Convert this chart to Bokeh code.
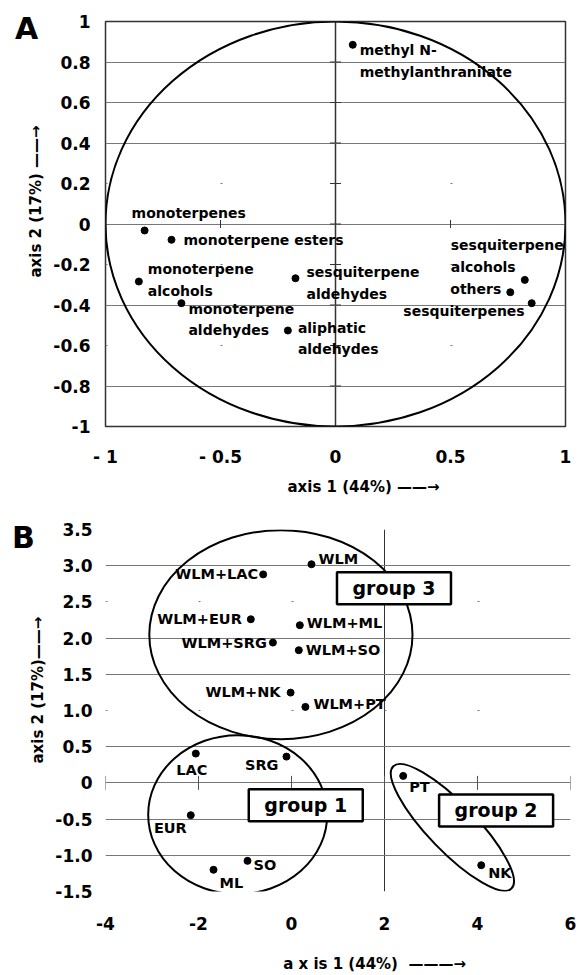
import math
from bokeh.plotting import figure
from bokeh.layouts import column
from bokeh.models import (ColumnDataSource, LabelSet, FixedTicker, Grid, Title, Div)
from bokeh.embed import file_html
from bokeh.resources import INLINE
from bokeh.core.properties import value

FONT = "DejaVu Sans"
NBSP = "\u00a0"

# ---------------- Panel A : variable loadings ----------------
a_names = ["monoterpenes", "monoterpene esters", "monoterpene\nalcohols",
           "monoterpene\naldehydes", "sesquiterpene\naldehydes", "aliphatic\naldehydes",
           "sesquiterpene\nalcohols", "others", "sesquiterpenes",
           "methyl N-\nmethylanthranilate"]
a_x = [-0.830, -0.713, -0.855, -0.670, -0.174, -0.207, 0.823, 0.760, 0.853, 0.075]
a_y = [-0.032, -0.078, -0.284, -0.391, -0.268, -0.526, -0.276, -0.337, -0.391, 0.885]

a_xticks = [-1, -0.5, 0, 0.5, 1]
a_xtick_labels = ["- 1", "- 0.5", "0", "0.5", "1"]
a_yticks = [-1, -0.8, -0.6, -0.4, -0.2, 0, 0.2, 0.4, 0.6, 0.8, 1]
a_ytick_labels = ["-1", "-0.8", "-0.6", "-0.4", "-0.2", "0", "0.2", "0.4", "0.6", "0.8", "1"]
a_grid_solid = [-0.8, -0.4, 0, 0.4, 0.6, 0.8]
a_grid_dotted = [-0.6, -0.2, 0.2]
a_circle_r = [1]

# ---------------- Panel B : sample scores ----------------
b_names = ["WLM", "WLM+LAC", "WLM+EUR", "WLM+ML", "WLM+SRG", "WLM+SO", "WLM+NK", "WLM+PT",
           "LAC", "SRG", "EUR", "SO", "ML", "PT", "NK"]
b_x = [0.430, -0.609, -0.875, 0.179, -0.400, 0.157, -0.019, 0.299,
       -2.058, -0.108, -2.166, -0.946, -1.677, 2.402, 4.080]
b_y = [3.020, 2.880, 2.260, 2.178, 1.938, 1.833, 1.247, 1.050,
       0.405, 0.363, -0.446, -1.077, -1.200, 0.097, -1.137]

b_xticks = [-4, -2, 0, 2, 4, 6]
b_xtick_labels = ["-4", "-2", "0", "2", "4", "6"]
b_yticks = [-1.5, -1, -0.5, 0, 0.5, 1, 1.5, 2, 2.5, 3, 3.5]
b_ytick_labels = ["-1.5", "-1.0", "-0.5", "0", "0.5", "1.0", "1.5", "2.0", "2.5", "3.0", "3.5"]
b_grid_solid = [-1.5, -1, -0.5, 0, 0.5, 1.5, 2, 3]
b_grid_dotted = [1, 2.5, 3.5]

group_names = ["group 1", "group 2", "group 3"]
group_box_x = [0.307, 4.40, 2.204]
group_box_y = [-0.309, -0.380, 2.690]
# group envelopes (groups 1 and 3 upright, group 2 tilted)
ell_x = [-1.157, -0.228]
ell_y = [-0.439, 2.047]
ell_w = [3.85, 5.66]
ell_h = [2.196, 2.887]
g2_x = [3.46]
g2_y = [-0.615]

# ---------------- label placement (screen px: right, down) ----------------
a_dx = [-13, 12, 9, 7, 11, 10, -74, -9, -7, 7]
a_dy = [-17, 0, -1.5, 16.5, 4.5, 8, -24, -3, 8, 16]
a_align = ["left", "left", "left", "left", "left", "left", "left", "right", "right", "left"]

b_dx = [7, -5, -9, 7, -6, 7, -10, 8, -4, -8, -4, 6, 6, 6, 7]
b_dy = [-5, 0, 0, -2, 0, 0, -1, -3, 16, 8, 13, 4, 13, 11, 8]
b_align = ["left", "right", "right", "left", "right", "left", "right", "left",
           "center", "right", "right", "left", "left", "left", "left"]


def style_axes(p, xticks, xlabels, yticks, ylabels, xstand, ystand):
    p.xaxis.ticker = FixedTicker(ticks=xticks)
    p.xaxis.major_label_overrides = dict(zip(xticks, xlabels))
    p.yaxis.ticker = FixedTicker(ticks=yticks)
    p.yaxis.major_label_overrides = dict(zip(yticks, ylabels))
    for ax, st in ((p.xaxis, xstand), (p.yaxis, ystand)):
        ax.axis_line_color = None
        ax.major_tick_line_color = None
        ax.minor_tick_line_color = None
        ax.major_tick_out = 0
        ax.major_tick_in = 0
        ax.minor_tick_out = 0
        ax.minor_tick_in = 0
        ax.major_label_standoff = st
        ax.major_label_text_font = FONT
        ax.major_label_text_font_style = "bold"
        ax.major_label_text_font_size = "17px"
        ax.major_label_text_color = "black"


def axis_title(text, offset, standoff):
    t = Title(text=text, align="left", offset=offset, text_font=FONT,
              text_font_style="bold", text_font_size="15px", text_color="black")
    if "standoff" in Title.properties():
        t.standoff = standoff
    return t


def letter(text, pad_top, pad_left):
    html = ('<div style="font-family:\'DejaVu Sans\';font-size:30px;font-weight:bold;'
            'line-height:30px;color:black;padding-top:%dpx;padding-left:%dpx;">%s</div>'
            % (pad_top, pad_left, text))
    return Div(text=html, width=60, height=50, margin=(0, 0, -50, 0))


# ================= Figure A =================
pa = figure(frame_width=460, frame_height=405, x_range=(-1, 1), y_range=(-1, 1),
            min_border_left=105, min_border_right=13, min_border_top=21, min_border_bottom=80,
            output_backend="svg", toolbar_location=None,
            background_fill_color="white", border_fill_color=None)
pa.outline_line_color = "#333333"
pa.outline_line_width = 1.5
style_axes(pa, a_xticks, a_xtick_labels, a_yticks, a_ytick_labels, 20, 15)

pa.xgrid.ticker = FixedTicker(ticks=[0])
pa.xgrid.grid_line_color = "#333333"
pa.xgrid.grid_line_width = 1.5
pa.ygrid.ticker = FixedTicker(ticks=a_grid_solid)
pa.ygrid.grid_line_color = "#777777"
pa.ygrid.grid_line_width = 1
pa.add_layout(Grid(dimension=1, ticker=FixedTicker(ticks=a_grid_dotted),
                   grid_line_color="#777777", grid_line_dash="2 113"))

# small cross ticks on the zero axes
pa.scatter(x=[0] * len(a_yticks), y=a_yticks, marker="dash", size=11,
           line_color="#333333", line_width=1)
pa.scatter(x=a_xticks, y=[0] * len(a_xticks), marker="dash", angle=math.pi / 2,
           size=8, line_color="#333333", line_width=1)

pa.ellipse(x=[0], y=[0], width=[2 * r for r in a_circle_r], height=[2 * r for r in a_circle_r],
           fill_color=None, line_color="black", line_width=2)
pa.scatter(a_x, a_y, size=7, color="black")

src_a = ColumnDataSource(dict(x=a_x, y=a_y, text=a_names, dx=a_dx,
                              dy=[-d for d in a_dy], align=a_align))
pa.add_layout(LabelSet(x="x", y="y", text="text", x_offset="dx", y_offset="dy",
                       text_align="align", text_baseline="middle", source=src_a,
                       text_font=value(FONT), text_font_style="bold",
                       text_font_size="14px", text_line_height=1.35, text_color="black"))

pa.add_layout(axis_title("axis 1 (44%) \u2014\u2014\u2192", 182, 13), "below")
pa.add_layout(axis_title("axis 2 (17%) \u2014\u2014\u2192", 149, 12), "left")

# ================= Figure B =================
pb = figure(frame_width=465, frame_height=362, x_range=(-4, 6), y_range=(-1.5, 3.5),
            min_border_left=104, min_border_right=9, min_border_top=23, min_border_bottom=83,
            output_backend="svg", toolbar_location=None,
            background_fill_color="white", border_fill_color=None)
pb.outline_line_color = None
style_axes(pb, b_xticks, b_xtick_labels, b_yticks, b_ytick_labels, 25, 13)

pb.xaxis.axis_label = NBSP * 14 + "a x is 1 (44%)" + NBSP * 2 + "\u2014\u2014\u2014\u2192"
pb.xaxis.axis_label_standoff = 22
pb.xaxis.axis_label_text_font = FONT
pb.xaxis.axis_label_text_font_style = "bold"
pb.xaxis.axis_label_text_font_size = "15px"
pb.xaxis.axis_label_text_color = "black"

pb.xgrid.ticker = FixedTicker(ticks=[2])
pb.xgrid.grid_line_color = "#333333"
pb.xgrid.grid_line_width = 1
pb.ygrid.ticker = FixedTicker(ticks=b_grid_solid)
pb.ygrid.grid_line_color = "#777777"
pb.ygrid.grid_line_width = 1
pb.add_layout(Grid(dimension=1, ticker=FixedTicker(ticks=b_grid_dotted),
                   grid_line_color="#777777", grid_line_dash="2 91"))
pb.scatter(x=b_xticks, y=[0] * len(b_xticks), marker="dash", angle=math.pi / 2,
           size=14, line_color="#555555", line_width=1)

pb.ellipse(x=ell_x, y=ell_y, width=ell_w, height=ell_h,
           fill_color=None, line_color="black", line_width=2)
pb.ellipse(x=g2_x, y=g2_y, width=[170], height=[48], angle=[-46], angle_units="deg",
           width_units="screen", height_units="screen",
           fill_color=None, line_color="black", line_width=2)

pb.rect(x=group_box_x, y=group_box_y, width=114, height=32,
        width_units="screen", height_units="screen",
        fill_color="white", line_color="black", line_width=2.5)
pb.text(x=group_box_x, y=group_box_y, text=group_names, text_align="center",
        text_baseline="middle", text_font=value(FONT), text_font_style="bold",
        text_font_size="19px", text_color="black")

pb.scatter(b_x, b_y, size=7, color="black")
src_b = ColumnDataSource(dict(x=b_x, y=b_y, text=b_names, dx=b_dx,
                              dy=[-d for d in b_dy], align=b_align))
pb.add_layout(LabelSet(x="x", y="y", text="text", x_offset="dx", y_offset="dy",
                       text_align="align", text_baseline="middle", source=src_b,
                       text_font=value(FONT), text_font_style="bold",
                       text_font_size="14.5px", text_color="black"))

pb.add_layout(axis_title("axis 2 (17%)\u2014\u2014\u2192", 128, 12), "left")

layout = column(letter("A", 14, 15), pa, letter("B", 17, 12), pb, spacing=0)
with open("out.html", "w") as f:
    f.write(file_html(layout, INLINE))
